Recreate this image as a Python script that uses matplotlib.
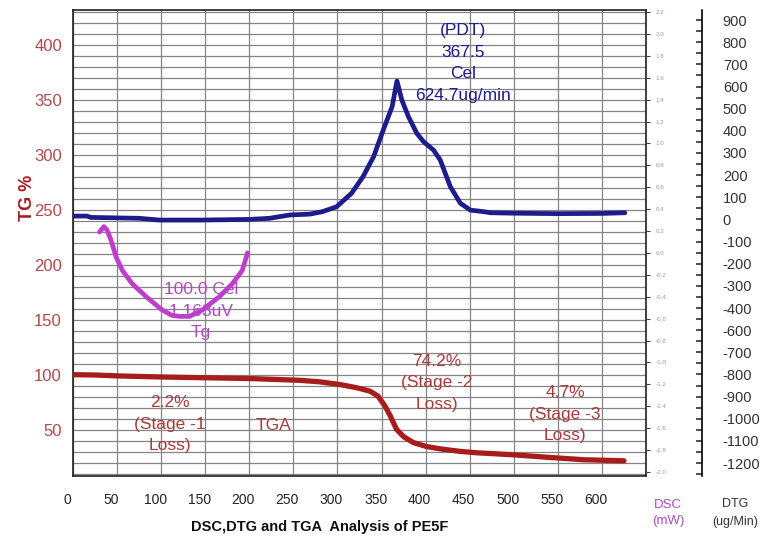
import matplotlib
matplotlib.use('Agg')
import matplotlib.pyplot as plt
import matplotlib.transforms as mtransforms
import numpy as np

plt.rcParams['font.family'] = ['Liberation Sans', 'DejaVu Sans']

# temperature (Cel) vs TG %
tga_temp = [0, 25, 50, 100, 150, 200, 257, 280, 303, 322, 337, 346, 354, 360, 367,
            375, 386, 401, 417, 439, 458, 477, 504, 542, 579, 625]
tga_pct = [100.3, 100.0, 99.2, 98.2, 97.5, 96.8, 95.2, 93.8, 91.3, 88.4, 85.3, 80.8,
           71.7, 62.7, 50.6, 44.0, 38.6, 35.0, 32.8, 30.6, 29.3, 28.5, 27.2, 25.0,
           23.0, 22.0]

# temperature vs DTG (ug/min)
dtg_temp = [0, 16, 20, 75, 98, 143, 200, 223, 246, 269, 283, 299, 316, 329, 341, 352,
            362, 367.5, 373, 380.5, 390, 397.6, 409, 416.6, 428, 439.4, 450.8, 465.6,
            473.5, 500, 550, 600, 626]
dtg_val = [15, 15, 9, 5, -3, -3, 0, 5, 20, 24, 35, 57, 118, 193, 283, 404, 509, 624.7,
           539, 464, 389, 351, 313, 268, 148, 73, 42, 35, 30, 28, 26, 27, 30]

# temperature vs DSC (mW)
dsc_temp = [30, 35, 38.5, 43, 49, 56, 67, 83, 101, 112, 121, 132, 147, 166, 181, 192, 198]
dsc_val = [0.19, 0.24, 0.21, 0.12, -0.04, -0.16, -0.28, -0.40, -0.52, -0.57, -0.58,
           -0.58, -0.52, -0.40, -0.28, -0.16, 0.0]

x_ticks = list(range(0, 650, 50))
tg_ticks = [50, 100, 150, 200, 250, 300, 350, 400]
dtg_tick_pos = list(range(900, -1200, -100))
dtg_tick_labels = ['900', '800', '700', '600', '500', '400', '300', '200', '100', '0',
                   '-100', '-200', '-300', '-400', '-600', '-700', '-800', '-900',
                   '-1000', '-1100', '-1200']
dsc_tick_pos = [round(2.2 - 0.2 * k, 1) for k in range(22)]

RED = '#a81c1c'
RED_TXT = '#a83a3a'
BLUE = '#1c1c8a'
PURPLE = '#c03ccc'
PURPLE_TXT = '#b048c0'

W, H = 760, 541
fig = plt.figure(figsize=(W / 100, H / 100), dpi=100)
left, right, top, bottom = 73, 646, 10, 476
ax = fig.add_axes([left / W, 1 - bottom / H, (right - left) / W, (bottom - top) / H])

ax.set_xlim(0, 650)
ax.set_ylim(8.2, 431.8)
ax.set_xticks(x_ticks)
ax.set_yticks(tg_ticks)
ax.set_xticks(range(0, 651, 50), minor=True)
ax.set_yticks(range(10, 432, 10), minor=True)
ax.grid(which='both', color='#858585', linewidth=0.9)
ax.tick_params(which='both', length=0)
ax.tick_params(axis='x', labelsize=10, labelcolor='#222222', pad=12)
ax.tick_params(axis='y', labelsize=12, labelcolor='#b04848', pad=8)
for s in ax.spines.values():
    s.set_linewidth(1.2)
    s.set_color('#202020')

shift = mtransforms.ScaledTranslation(-0.06, 0, fig.dpi_scale_trans)
for lab in ax.get_xticklabels():
    lab.set_transform(lab.get_transform() + shift)

ax.plot(tga_temp, tga_pct, color=RED, linewidth=3.8, solid_capstyle='round', zorder=5)

# DTG axis
ax_dtg = ax.twinx()
ax_dtg.set_ylim(-(bottom - 219.4) / 0.2215, (219.4 - top) / 0.2215)
ax_dtg.spines['right'].set_position(('axes', (702 - left) / (right - left)))
for name in ['top', 'left', 'bottom']:
    ax_dtg.spines[name].set_visible(False)
ax_dtg.spines['right'].set_linewidth(1.2)
ax_dtg.set_yticks(dtg_tick_pos)
ax_dtg.set_yticklabels(dtg_tick_labels)
ax_dtg.set_yticks(np.arange(-1150, 950, 50), minor=True)
ax_dtg.tick_params(which='both', direction='in', length=4, width=1.1, color='#202020')
ax_dtg.tick_params(axis='y', labelsize=10.5, labelcolor='#333333', pad=15)
ax_dtg.plot(dtg_temp, dtg_val, color=BLUE, linewidth=3.4, solid_capstyle='round', zorder=6)

# DSC axis
ax_dsc = ax.twinx()
ax_dsc.set_ylim(2.2 - (bottom - 12) / 109.5, 2.2 + (12 - top) / 109.5)
for name in ['top', 'left', 'bottom', 'right']:
    ax_dsc.spines[name].set_visible(False)
ax_dsc.set_yticks(dsc_tick_pos)
ax_dsc.set_yticklabels([f'{v:.1f}' for v in dsc_tick_pos])
ax_dsc.tick_params(axis='y', length=3, width=0.8, color='#404040', labelsize=4.5,
                   labelcolor='#a890b8', pad=4)
ax_dsc.plot(dsc_temp, dsc_val, color=PURPLE, linewidth=3.4, solid_capstyle='round', zorder=6)

# annotations (positions in pixels of the figure)
def px_text(x, y, s, color, size=12.5, **kw):
    fig.text(x / W, 1 - y / H, s, color=color, fontsize=size, ha='center', va='center',
             linespacing=1.55, zorder=10, **kw)

px_text(463, 63, '(PDT)\n367.5\nCel\n624.7ug/min', BLUE)
px_text(201, 311, '100.0 Cel\n1.163uV\nTg', PURPLE_TXT)
px_text(170, 424, '2.2%\n(Stage -1\nLoss)', RED_TXT)
px_text(273, 426, 'TGA', RED_TXT)
px_text(437, 383, '74.2%\n(Stage -2\nLoss)', RED_TXT)
px_text(565, 414, '4.7%\n(Stage -3\nLoss)', RED_TXT)

fig.text(28 / W, 1 - 198 / H, 'TG %', color=RED, fontsize=13, fontweight='bold',
         rotation=90, ha='center', va='center')
fig.text(320 / W, 1 - 527 / H, 'DSC,DTG and TGA  Analysis of PE5F', color='#111111',
         fontsize=10.5, fontweight='bold', ha='center', va='center')
fig.text(668 / W, 1 - 513 / H, 'DSC\n(mW)', color=PURPLE_TXT, fontsize=9.5, ha='center',
         va='center', linespacing=1.5)
fig.text(735 / W, 1 - 513 / H, 'DTG\n(ug/Min)', color='#333333', fontsize=9,
         ha='center', va='center', linespacing=1.6)

fig.savefig('out.png', dpi=100)
